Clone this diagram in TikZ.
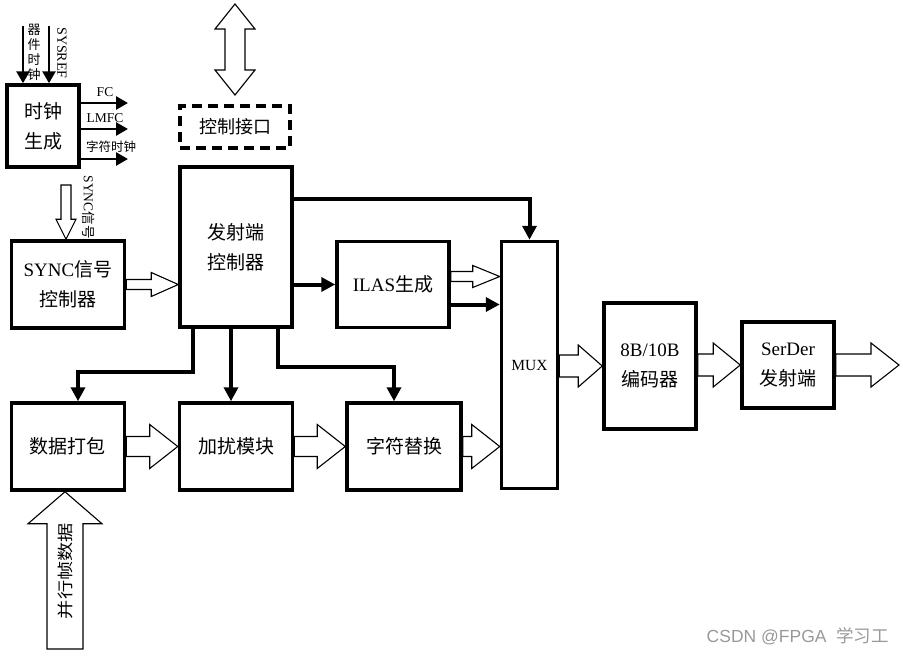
\documentclass[tikz,border=0pt]{standalone}
\usepackage{fontspec}
\setmainfont{Liberation Serif}
\newfontfamily\cjk{Noto Sans CJK SC}
\newfontfamily\wmfont{Liberation Sans}
\usetikzlibrary{arrows.meta,calc}
\newcommand\rarr[5]{\draw[hol] let \p1=#1, \p2=#2 in (\x1,\y1+#3pt) -- (\x2-#5pt,\y1+#3pt) -- (\x2-#5pt,\y1+#4pt) -- (\x2,\y1) -- (\x2-#5pt,\y1-#4pt) -- (\x2-#5pt,\y1-#3pt) -- (\x1,\y1-#3pt) -- cycle;}
\newcommand\darr[5]{\draw[hol] let \p1=#1, \p2=#2 in (\x1+#3pt,\y1) -- (\x1+#3pt,\y2+#5pt) -- (\x1+#4pt,\y2+#5pt) -- (\x1,\y2) -- (\x1-#4pt,\y2+#5pt) -- (\x1-#3pt,\y2+#5pt) -- (\x1-#3pt,\y1) -- cycle;}
\newcommand\uarr[5]{\draw[hol] let \p1=#1, \p2=#2 in (\x1+#3pt,\y1) -- (\x1+#3pt,\y2-#5pt) -- (\x1+#4pt,\y2-#5pt) -- (\x1,\y2) -- (\x1-#4pt,\y2-#5pt) -- (\x1-#3pt,\y2-#5pt) -- (\x1-#3pt,\y1) -- cycle;}
\newcommand\vdarr[5]{\draw[hol] let \p1=#1, \p2=#2 in (\x1,\y1) -- (\x1+#4pt,\y1-#5pt) -- (\x1+#3pt,\y1-#5pt) -- (\x1+#3pt,\y2+#5pt) -- (\x1+#4pt,\y2+#5pt) -- (\x1,\y2) -- (\x1-#4pt,\y2+#5pt) -- (\x1-#3pt,\y2+#5pt) -- (\x1-#3pt,\y1-#5pt) -- (\x1-#4pt,\y1-#5pt) -- cycle;}
\tikzset{
  blk/.style={draw, line width=3.5pt, align=center, inner sep=0pt, font=\fontsize{19}{30}\selectfont},
  hol/.style={draw, line width=1.1pt, fill=white, line join=miter},
  thkarr/.style={line width=4pt, -{Triangle[length=14pt,width=14pt]}},
  thinarr/.style={line width=2.7pt, -{Triangle[length=12pt,width=13pt]}},
  small/.style={font=\fontsize{13.5}{15}\selectfont, inner sep=0pt},
}
\begin{document}
\begin{tikzpicture}[x=1pt,y=-1pt]
\useasboundingbox (0,0) rectangle (903,656);
% boxes
\node[blk, minimum width=72pt, minimum height=82pt] (clk) at (43,126) {{\cjk 时钟}\\{\cjk 生成}};
\node[blk, dashed, dash pattern=on 10pt off 6pt, minimum width=110pt, minimum height=42pt, font=\fontsize{18}{22}\selectfont] (ci) at (235,127) {\cjk 控制接口};
\node[blk, minimum width=112pt, minimum height=160pt] (ctrl) at (236,247) {{\cjk 发射端}\\{\cjk 控制器}};
\node[blk, minimum width=113pt, minimum height=87pt] (sync) at (68,284.5) {SYNC{\cjk 信号}\\{\cjk 控制器}};
\node[blk, minimum width=112pt, minimum height=86pt] (ilas) at (393,284.5) {ILAS{\cjk 生成}};
\node[blk, minimum width=56pt, minimum height=247pt, font=\fontsize{15.5}{18}\selectfont] (mux) at (529.5,365) {MUX};
\node[blk, minimum width=92pt, minimum height=126pt] (enc) at (650,366) {8B/10B\\{\cjk 编码器}};
\node[blk, minimum width=92pt, minimum height=86pt] (ser) at (788,365) {SerDer\\{\cjk 发射端}};
\node[blk, minimum width=113pt, minimum height=87pt] (pack) at (68,446.5) {\cjk 数据打包};
\node[blk, minimum width=113pt, minimum height=87pt] (scr) at (236,446.5) {\cjk 加扰模块};
\node[blk, minimum width=114pt, minimum height=87pt] (rep) at (404,446.5) {\cjk 字符替换};
% clock inputs
\coordinate (dc) at (23,26);
\coordinate (sr) at (49,26);
\draw[thinarr] (dc) -- (dc |- clk.north);
\draw[thinarr] (sr) -- (sr |- clk.north);
\node[small, align=center, font=\fontsize{13}{15}\selectfont] (dcl) at (34,52) {\cjk 器\\\cjk 件\\\cjk 时\\\cjk 钟};
\node[small, rotate=-90, font=\fontsize{14}{15}\selectfont] (srl) at (62,53) {SYSREF};
% clock outputs
\coordinate (fc) at (128,103);
\coordinate (lm) at (128,129);
\coordinate (zf) at (128,159);
\draw[thinarr] (fc -| clk.east) -- (fc);
\draw[thinarr] (lm -| clk.east) -- (lm);
\draw[thinarr] (zf -| clk.east) -- (zf);
\node[small] (fcl) at (105,92) {FC};
\node[small] (lml) at (105,118) {LMFC};
\node[small, font=\fontsize{12.5}{15}\selectfont] (zfl) at (111,147) {\cjk 字符时钟};
% control interface double arrow
\coordinate (ct) at (235,4);
\coordinate (cb) at (235,95);
\vdarr{(ct)}{(cb)}{10}{20}{25}
% SYNC input
\coordinate (si) at (66,185);
\darr{(si)}{(si |- sync.north)}{5}{10}{20}
\node[small, rotate=-90] (sil) at (89,207) {SYNC{\cjk 信号}};
\rarr{(sync.east)}{(sync.east -| ctrl.west)}{5}{12}{27}
% controller connectors
\draw[thkarr] ([yshift=48pt]ctrl.east) -| (mux.north);
\draw[thkarr] (ctrl.east |- ilas.west) -- (ilas.west);
\coordinate (ih) at ([yshift=8pt]ilas.east);
\rarr{(ih)}{(ih -| mux.west)}{5}{11}{27}
\coordinate (ib) at ([yshift=-20pt]ilas.east);
\draw[thkarr] (ib) -- (ib -| mux.west);
\coordinate (c1) at ([xshift=-43pt]ctrl.south);
\coordinate (pa) at (78,372);
\draw[thkarr] (c1) |- (pa) -- (pa |- pack.north);
\draw[thkarr] ([xshift=-5pt]ctrl.south) -- ([xshift=-5pt]scr.north);
\coordinate (c3) at ([xshift=42pt]ctrl.south);
\coordinate (ra) at (394,367);
\draw[thkarr] (c3) |- (ra) -- (ra |- rep.north);
% data path hollow arrows
\rarr{(pack.east)}{(scr.west)}{10}{22}{28}
\rarr{(scr.east)}{(rep.west)}{10}{22}{28}
\rarr{(rep.east)}{(rep.east -| mux.west)}{10}{22}{28}
\rarr{(enc.west -| mux.east)}{(enc.west)}{11}{21}{24}
\rarr{(ser.west -| enc.east)}{(ser.west)}{11}{22}{27}
\coordinate (out) at (899,365);
\rarr{(ser.east)}{(out)}{11}{22}{28}
% parallel frame data
\coordinate (pin) at (65,649);
\uarr{(pin)}{(pin |- pack.south)}{18}{37}{32}
\node[rotate=90, inner sep=0pt, font=\fontsize{16}{18}\selectfont] (pinl) at (65,571) {\scalebox{1.2}[1]{\cjk 并行帧数据}};
% watermark
\node[anchor=east, text=black!40, inner sep=0pt, font=\fontsize{17.5}{20}\selectfont] (wm) at (889,636) {\wmfont CSDN @FPGA\ \ {\cjk 学习工}};
\end{tikzpicture}
\end{document}
